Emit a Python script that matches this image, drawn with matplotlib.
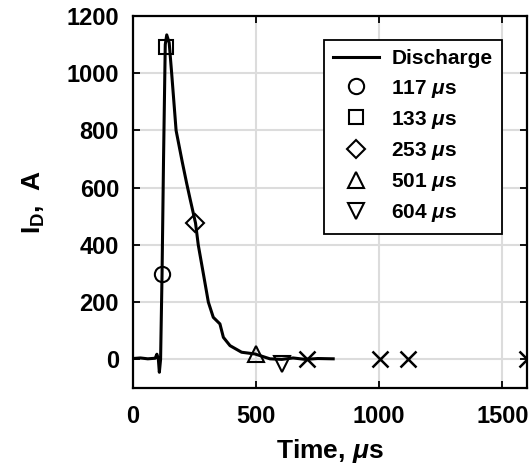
import numpy as np
import matplotlib as mpl
mpl.use('Agg')
import matplotlib.pyplot as plt

plt.rc('font', family='Liberation Sans', weight='bold')
plt.rcParams['mathtext.fontset'] = 'custom'
plt.rcParams['mathtext.it'] = 'Liberation Sans:italic'
plt.rcParams['mathtext.rm'] = 'Liberation Sans:bold'

# discharge current trace (time in us, current in A)
t_dis = [0, 30, 60, 90, 97, 103, 107, 112, 118, 124, 131, 137, 147, 157, 175,
         200, 218, 232, 254, 265, 286, 306, 326, 353, 367, 394, 441, 495, 556,
         604, 650, 700, 750, 813]
i_dis = [3, 5, 2, 4, 18, 0, -45, 0, 300, 700, 1100, 1134, 1106, 1000, 800,
         690, 615, 560, 476, 400, 298, 200, 147, 124, 77, 48, 25, 19, 2,
         0, 5, 0, 3, 2]

# marked instants
mark_t = [117, 133, 253, 501, 604]
mark_i = [300, 1090, 478, 20, -15]
mark_sym = ['o', 's', 'D', '^', 'v']
mark_lab = [r'117 $\mu$s', r'133 $\mu$s', r'253 $\mu$s', r'501 $\mu$s', r'604 $\mu$s']

# extra points without legend entry
x_t = [707, 1004, 1118, 1600]
x_i = [0, 0, 0, 0]

fig = plt.figure(figsize=(5.32, 4.69), dpi=100)
a = fig.add_axes([0.25, 0.1727, 0.7406, 0.7932])

a.plot(t_dis, i_dis, '-', color='k', linewidth=2.2, label='Discharge')
for k in range(len(mark_t)):
    ms = 11
    if mark_sym[k] == 'D':
        ms = 9
    if mark_sym[k] == 's':
        ms = 10
    a.plot(mark_t[k], mark_i[k], mark_sym[k], markerfacecolor='none',
           markeredgecolor='k', markeredgewidth=1.5, markersize=ms, label=mark_lab[k])
a.plot(x_t, x_i, 'x', color='k', markersize=11, markeredgewidth=1.8)

a.set_xlim(0, 1600)
a.set_ylim(-100, 1200)
a.set_xticks([0, 500, 1000, 1500])
a.set_yticks([0, 200, 400, 600, 800, 1000, 1200])
a.tick_params(axis='both', direction='in', top=True, right=True, labelsize=17,
              width=1.3, length=5)
a.tick_params(axis='x', pad=12)
a.tick_params(axis='y', pad=10)
a.grid(True, color='#dcdcdc', linewidth=1.5)
a.set_axisbelow(True)
for s in a.spines.values():
    s.set_linewidth(1.6)

a.set_xlabel(r'Time, $\mu$s', fontsize=19, fontweight='bold', labelpad=7)
a.set_ylabel(r'I$_\mathrm{D}$,  A', fontsize=19, fontweight='bold', labelpad=14)

leg = a.legend(loc='upper right', bbox_to_anchor=(0.9365, 0.9355), borderaxespad=0,
               fontsize=15, fancybox=False, framealpha=1, handlelength=2.2,
               handletextpad=0.6, labelspacing=0.44, borderpad=0.45)
leg.get_frame().set_edgecolor('k')
leg.get_frame().set_linewidth(1.3)

fig.savefig('out.png', dpi=100)
